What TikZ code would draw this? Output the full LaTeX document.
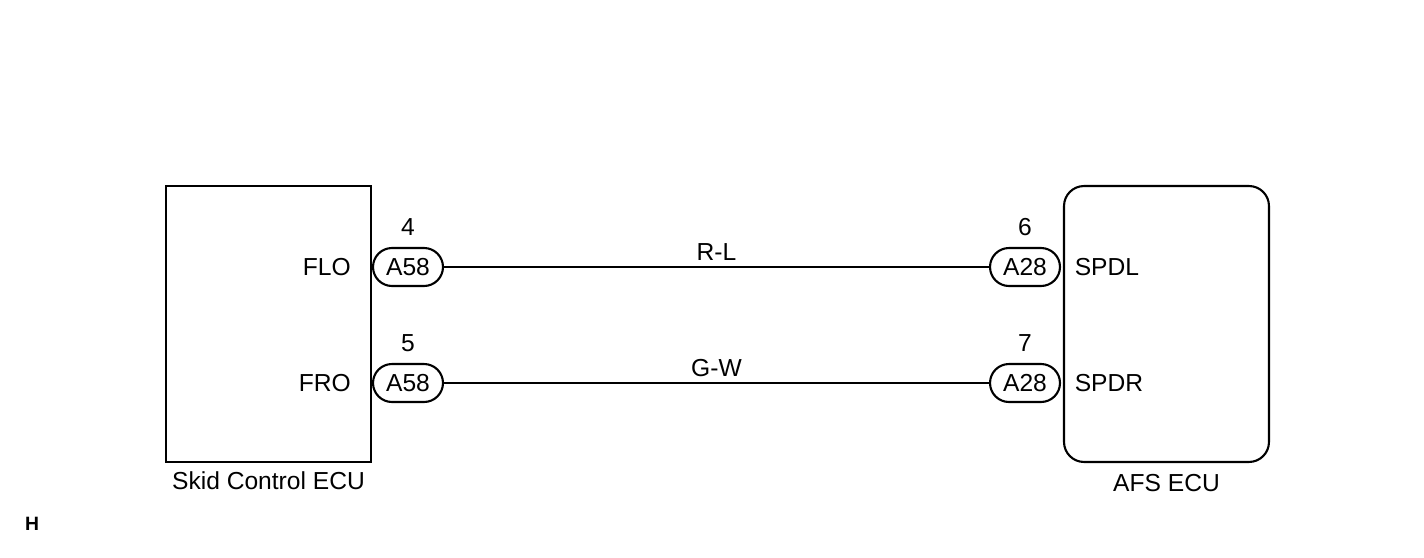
\documentclass[tikz,border=0pt]{standalone}
\usepackage{fontspec}
\setmainfont{Liberation Sans}
\usetikzlibrary{positioning}
\begin{document}
\begin{tikzpicture}[x=0.02cm, y=-0.02cm, font=\fontsize{14}{16}\selectfont]

    \tikzset{ecu/.style = {draw=black, line width=1.2pt, inner sep=0pt},
             conn/.style = {draw=black, line width=1.2pt, rounded corners=0.38cm, minimum width=1.4cm, minimum height=0.76cm, inner sep=0pt},
             wire/.style = {line width=0.6pt}}

    \useasboundingbox (0,0) rectangle (1424,558);

    \node (skid)  [ecu, minimum width=4.1cm, minimum height=5.52cm]                      at (268.5,324) {};
    \node (afs)   [ecu, rounded corners=0.4cm, minimum width=4.1cm, minimum height=5.52cm] at (1166.5,324) {};

    \node (a58l)  [conn]  at (408,267)  {A58};
    \node (a58r)  [conn]  at (408,383)  {A58};
    \node (a28l)  [conn]  at (1025,267) {A28};
    \node (a28r)  [conn]  at (1025,383) {A28};

    \node (pin4)  [above=0.1cm of a58l] {4};
    \node (pin5)  [above=0.1cm of a58r] {5};
    \node (pin6)  [above=0.1cm of a28l] {6};
    \node (pin7)  [above=0.1cm of a28r] {7};

    \node (flo)   [left=0.3cm of a58l]  {FLO};
    \node (fro)   [left=0.3cm of a58r]  {FRO};
    \node (spdl)  [right=0.15cm of a28l] {SPDL};
    \node (spdr)  [right=0.15cm of a28r] {SPDR};

    \draw[wire] (a58l) -- node[above] {R-L} (a28l);
    \draw[wire] (a58r) -- node[above] {G-W} (a28r);

    \node (skidname) [below=0.05cm of skid] {Skid Control ECU};
    \node (afsname)  [below=0.1cm of afs]   {AFS ECU};

    \node (tag)  at (32,524) {\fontsize{11}{12}\selectfont\bfseries H};

\end{tikzpicture}
\end{document}
